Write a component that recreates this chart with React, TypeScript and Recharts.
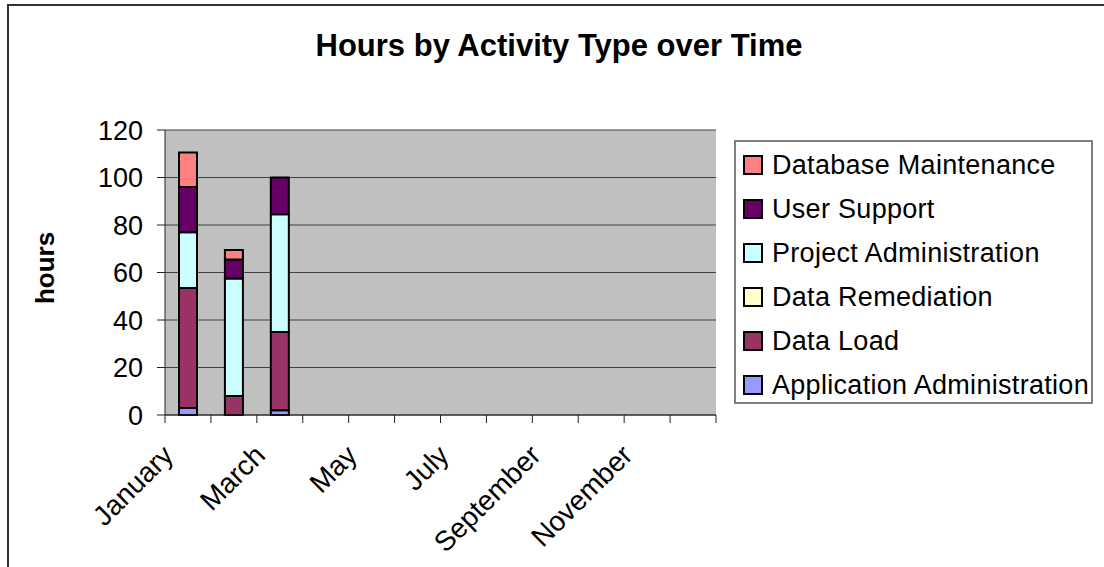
import React from 'react';
import { BarChart, Bar, XAxis, YAxis, CartesianGrid, Legend } from 'recharts';

const months = [
  'January', 'February', 'March', 'April', 'May', 'June',
  'July', 'August', 'September', 'October', 'November', 'December',
];

// hours per month (Jan, Feb, Mar; rest empty)
const applicationAdministration = [3, 0, 2, 0, 0, 0, 0, 0, 0, 0, 0, 0];
const dataLoad = [50.5, 8, 33, 0, 0, 0, 0, 0, 0, 0, 0, 0];
const dataRemediation = [0, 0, 0, 0, 0, 0, 0, 0, 0, 0, 0, 0];
const projectAdministration = [23.5, 49.5, 49.5, 0, 0, 0, 0, 0, 0, 0, 0, 0];
const userSupport = [19, 8, 15.5, 0, 0, 0, 0, 0, 0, 0, 0, 0];
const databaseMaintenance = [14.5, 4, 0, 0, 0, 0, 0, 0, 0, 0, 0, 0];

const yTicks = [0, 20, 40, 60, 80, 100, 120];

// bottom of the stack first
const series = [
  { key: 'applicationAdministration', name: 'Application Administration', color: '#9999FF', values: applicationAdministration },
  { key: 'dataLoad', name: 'Data Load', color: '#993366', values: dataLoad },
  { key: 'dataRemediation', name: 'Data Remediation', color: '#FFFFCC', values: dataRemediation },
  { key: 'projectAdministration', name: 'Project Administration', color: '#CCFFFF', values: projectAdministration },
  { key: 'userSupport', name: 'User Support', color: '#660066', values: userSupport },
  { key: 'databaseMaintenance', name: 'Database Maintenance', color: '#FF8080', values: databaseMaintenance },
];

const data = months.map((month, i) => {
  const row: Record<string, string | number> = { month };
  series.forEach((s) => {
    row[s.key] = s.values[i];
  });
  return row;
});

const FONT = '"Liberation Sans", Arial, sans-serif';
const WIDTH = 1104;
const HEIGHT = 567;
const MARGIN = { top: 130, right: 388, bottom: 32, left: 105 };
const Y_AXIS_WIDTH = 60;
const BAND = (WIDTH - MARGIN.left - Y_AXIS_WIDTH - MARGIN.right) / months.length;

const MonthTick = (props: any) => {
  const { x, y, payload, index } = props;
  const lx = x - 13;
  const ly = y + 42;
  return (
    <g>
      <line x1={x + BAND / 2} x2={x + BAND / 2} y1={y} y2={y + 8} stroke="#222" strokeWidth={1} />
      {index === 0 && <line x1={x - BAND / 2} x2={x - BAND / 2} y1={y} y2={y + 8} stroke="#222" strokeWidth={1} />}
      {index % 2 === 0 && (
        <text
          x={lx}
          y={ly}
          transform={`rotate(-45 ${lx} ${ly})`}
          textAnchor="end"
          fontSize={28}
          fontFamily={FONT}
          fill="#000"
        >
          {payload.value}
        </text>
      )}
    </g>
  );
};

const LegendBox = () => (
  <div
    style={{
      border: '2px solid #808080',
      boxSizing: 'border-box',
      width: 359,
      height: 264,
      paddingTop: 1,
      fontFamily: FONT,
      background: '#fff',
    }}
  >
    {[...series].reverse().map((s) => (
      <div key={s.key} style={{ height: 44, display: 'flex', alignItems: 'center' }}>
        <span
          style={{
            display: 'inline-block',
            width: 16,
            height: 16,
            border: '2px solid #000',
            background: s.color,
            marginLeft: 7,
            marginRight: 9,
            flexShrink: 0,
          }}
        />
        <span style={{ fontSize: 27, whiteSpace: 'nowrap', letterSpacing: 0.3 }}>{s.name}</span>
      </div>
    ))}
  </div>
);

export default function App() {
  return (
    <div
      style={{
        position: 'absolute',
        left: 0,
        top: 0,
        width: WIDTH,
        height: HEIGHT,
        overflow: 'hidden',
        background: '#fff',
        fontFamily: FONT,
      }}
    >
      <div
        style={{
          position: 'absolute',
          left: 7,
          top: 4,
          width: 1200,
          height: 700,
          borderLeft: '2px solid #333',
          borderTop: '2px solid #333',
        }}
      />
      <div
        style={{
          position: 'absolute',
          left: 7,
          top: 31,
          width: 1104,
          textAlign: 'center',
          fontSize: 31,
          lineHeight: '30px',
          fontWeight: 'bold',
        }}
      >
        Hours by Activity Type over Time
      </div>
      <div
        style={{
          position: 'absolute',
          left: 45,
          top: 268,
          transform: 'translate(-50%, -50%) rotate(-90deg)',
          fontSize: 26,
          fontWeight: 'bold',
          whiteSpace: 'nowrap',
        }}
      >
        hours
      </div>
      <div style={{ position: 'absolute', left: 0, top: 0 }}>
        <BarChart width={WIDTH} height={HEIGHT} data={data} margin={MARGIN} barSize={18}>
          <CartesianGrid fill="#C0C0C0" stroke="#404040" vertical={false} />
          <XAxis
            dataKey="month"
            interval={0}
            height={120}
            tickSize={0}
            tickMargin={0}
            tickLine={false}
            tick={<MonthTick />}
            axisLine={{ stroke: '#222' }}
          />
          <YAxis
            width={Y_AXIS_WIDTH}
            domain={[0, 120]}
            ticks={yTicks}
            interval={0}
            tickSize={8}
            tickMargin={14}
            axisLine={{ stroke: '#222' }}
            tickLine={{ stroke: '#222' }}
            tick={{ fill: '#000', fontSize: 27, fontFamily: FONT }}
          />
          <YAxis
            yAxisId="frame"
            orientation="right"
            width={0}
            domain={[0, 120]}
            tick={false}
            tickLine={false}
            axisLine={{ stroke: '#808080' }}
          />
          <Legend
            layout="horizontal"
            verticalAlign="middle"
            align="center"
            wrapperStyle={{ left: 734, top: 140, width: 359, height: 264 }}
            content={() => <LegendBox />}
          />
          {series.map((s) => (
            <Bar
              key={s.key}
              dataKey={s.key}
              name={s.name}
              stackId="hours"
              fill={s.color}
              stroke="#000"
              strokeWidth={2}
              isAnimationActive={false}
            />
          ))}
        </BarChart>
      </div>
    </div>
  );
}
